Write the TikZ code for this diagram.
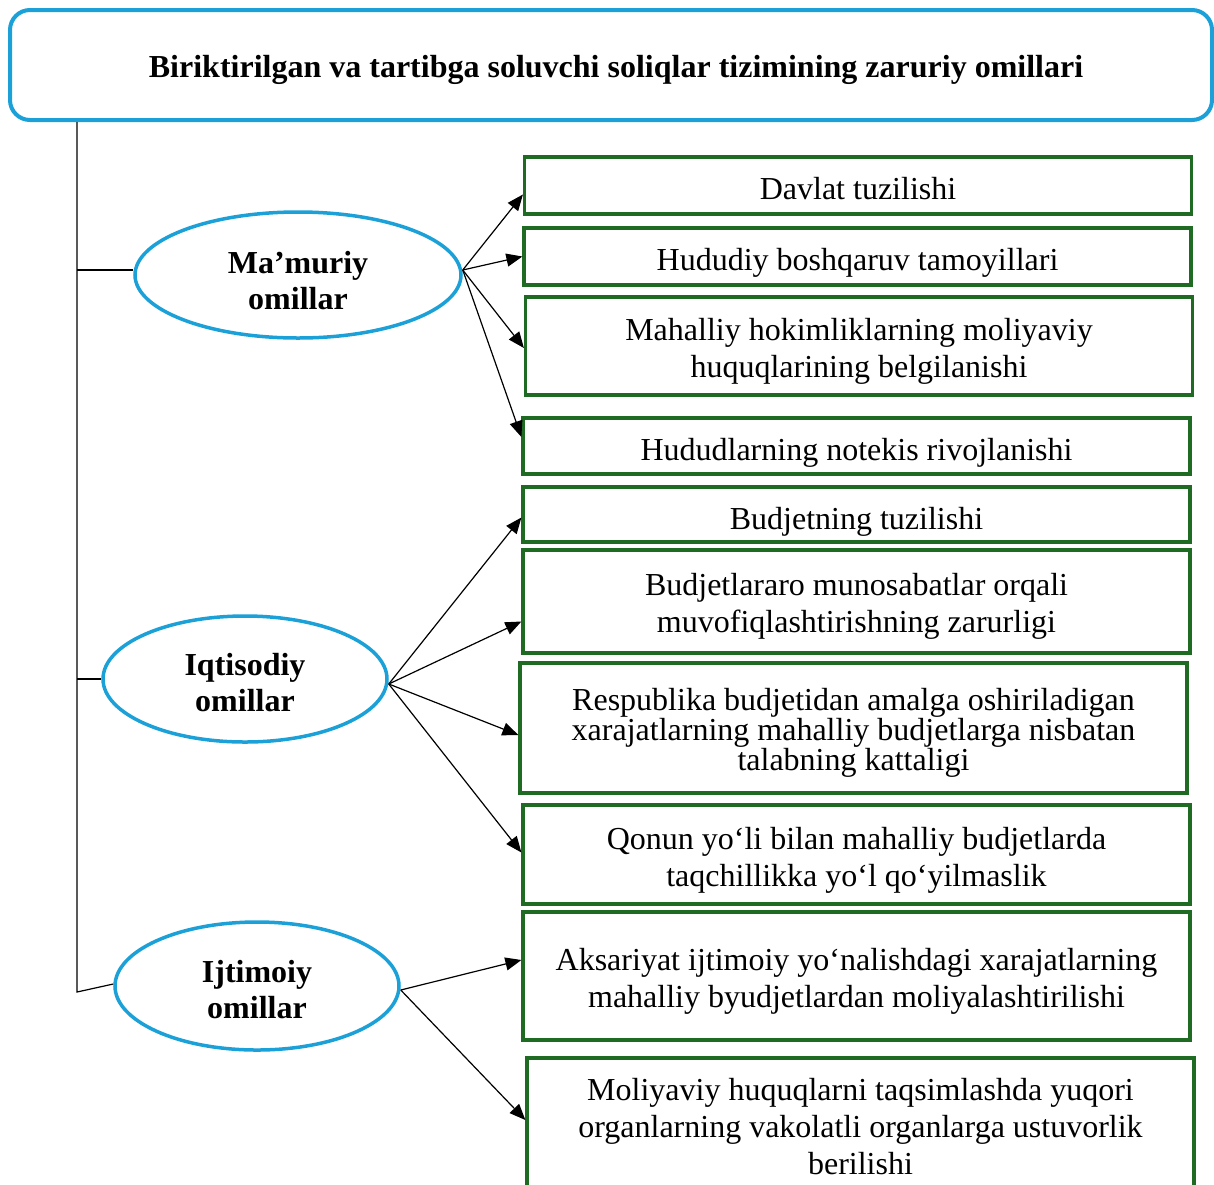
\documentclass[tikz,border=0pt]{standalone}
\usepackage{fontspec}
\setmainfont{Liberation Serif}
\usetikzlibrary{shapes.geometric,arrows.meta}
\definecolor{tblue}{RGB}{27,160,215}
\definecolor{tgreen}{RGB}{31,107,36}
\tikzset{
  titlebox/.style={draw=tblue, line width=4pt, rounded corners=20pt, inner sep=0pt},
  titletext/.style={inner sep=0pt, font=\fontsize{32}{37}\selectfont\bfseries},
  oval/.style={draw=tblue, line width=3.5pt, ellipse, inner sep=0pt},
  ovaltext/.style={inner sep=0pt, font=\fontsize{32}{36}\selectfont\bfseries, align=center},
  gbox/.style={draw=tgreen, line width=3.2pt, rectangle, inner sep=0pt, minimum width=667pt},
  gtext/.style={inner sep=0pt, align=center, font=\fontsize{32}{37}\selectfont},
  conn/.style={line width=1.2pt},
  arr/.style={line width=1.2pt, -{Triangle[length=16pt,width=13pt]}}
}
\begin{document}
\begin{tikzpicture}[x=1pt,y=-1pt]
\useasboundingbox (0,0) rectangle (1214,1184);
% title
\node[titlebox, minimum width=1202pt, minimum height=110pt] (title) at (611,65) {};
\node[titletext] (titlet) at (616,70)
  {Biriktirilgan va tartibga soluvchi soliqlar tizimining zaruriy omillari};
% ellipses
\node[oval, minimum width=326pt, minimum height=126pt] (m) at (298,275) {};
\node[ovaltext] (mt) at (298,281) {Ma’muriy\\omillar};
\node[oval, minimum width=284pt, minimum height=126pt] (q) at (245,679) {};
\node[ovaltext] (qt) at (245,683) {Iqtisodiy\\omillar};
\node[oval, minimum width=284pt, minimum height=128pt] (j) at (257,986) {};
\node[ovaltext] (jt) at (257,990) {Ijtimoiy\\omillar};
% boxes
\node[gbox, minimum height=57pt] (b1) at (858,185.5) {};
\node[gtext] (t1) at (858,189) {Davlat tuzilishi};
\node[gbox, minimum height=57pt] (b2) at (857.5,256.5) {};
\node[gtext] (t2) at (857.5,263) {Hududiy boshqaruv tamoyillari};
\node[gbox, minimum height=98pt] (b3) at (859,346) {};
\node[gtext] (t3) at (859,351) {Mahalliy hokimliklarning moliyaviy\\huquqlarining belgilanishi};
\node[gbox, minimum height=56pt] (b4) at (856.5,446) {};
\node[gtext] (t4) at (856.5,453) {Hududlarning notekis rivojlanishi};
\node[gbox, minimum height=55pt] (b5) at (856.5,514.5) {};
\node[gtext] (t5) at (856.5,521.5) {Budjetning tuzilishi};
\node[gbox, minimum height=103pt] (b6) at (856.5,601.5) {};
\node[gtext] (t6) at (856.5,606.5) {Budjetlararo munosabatlar orqali\\muvofiqlashtirishning zarurligi};
\node[gbox, minimum height=130pt] (b7) at (853.5,728) {};
\node[gtext, font=\fontsize{32}{29}\selectfont] (t7) at (853.5,733)
  {Respublika budjetidan amalga oshiriladigan\\xarajatlarning mahalliy budjetlarga nisbatan\\talabning kattaligi};
\node[gbox, minimum height=99pt] (b8) at (856.5,854.5) {};
\node[gtext] (t8) at (856.5,860.5) {Qonun yo‘li bilan mahalliy budjetlarda\\taqchillikka yo‘l qo‘yilmaslik};
\node[gbox, minimum height=128pt] (b9) at (856.5,976) {};
\node[gtext] (t9) at (856.5,981) {Aksariyat ijtimoiy yo‘nalishdagi xarajatlarning\\mahalliy byudjetlardan moliyalashtirilishi};
\node[gbox, minimum height=138pt] (b10) at (860.5,1127) {};
\node[gtext] (t10) at (860.5,1127) {Moliyaviy huquqlarni taqsimlashda yuqori\\organlarning vakolatli organlarga ustuvorlik\\berilishi};
% trunk
\coordinate (tb) at (77,992);
\draw[conn] (title.south -| tb) -- (tb) -- ([yshift=2pt]j.west);
\draw[conn] ([yshift=5pt]tb |- m.west) -- ([yshift=5pt]m.west);
\draw[conn] (tb |- q.west) -- (q.west);
% arrows
\draw[arr] ([yshift=5pt]m.east) -- ([yshift=-9pt]b1.west);
\draw[arr] ([yshift=5pt]m.east) -- ([yshift=0pt]b2.west);
\draw[arr] ([yshift=5pt]m.east) -- ([yshift=-2pt]b3.west);
\draw[arr] ([yshift=5pt]m.east) -- ([yshift=9pt]b4.west);
\draw[arr] ([yshift=-5pt]q.east) -- ([yshift=-3pt]b5.west);
\draw[arr] ([yshift=-5pt]q.east) -- ([yshift=-20pt]b6.west);
\draw[arr] ([yshift=-5pt]q.east) -- ([yshift=-7pt]b7.west);
\draw[arr] ([yshift=-5pt]q.east) -- ([yshift=2pt]b8.west);
\draw[arr] ([yshift=-4pt]j.east) -- ([yshift=16pt]b9.west);
\draw[arr] ([yshift=-4pt]j.east) -- ([yshift=7pt]b10.west);
\end{tikzpicture}
\end{document}
